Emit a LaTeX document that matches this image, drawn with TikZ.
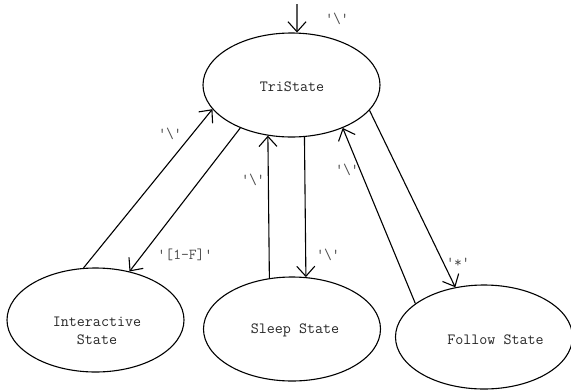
\documentclass[tikz,border=0pt]{standalone}
\usepackage{fontspec}
\usetikzlibrary{shapes.geometric,arrows.meta}
\newcommand{\quoted}[1]{\textquotesingle#1\textquotesingle}

\begin{document}
\begin{tikzpicture}[x=1pt,y=-1pt]
    \tikzstyle{state}=[draw, ellipse, line width=1.1pt, minimum width=177pt, minimum height=104pt, inner sep=0pt]
    \tikzstyle{statetext}=[font=\ttfamily\fontsize{15.6}{18}\selectfont, text=black!85, align=center]
    \tikzstyle{trans}=[line width=1.1pt, -{Straight Barb[length=10pt,width=18pt]}]
    \tikzstyle{cond}=[font=\ttfamily\fontsize{15.2}{16}\selectfont, text=black!70, inner sep=0pt]

    \useasboundingbox (0,0) rectangle (571,389);

    \node[state, label={[statetext, xshift=0.5pt, yshift=-2pt]center:TriState}](tri) at (291.5,85) {};
    \node[state, label={[statetext, xshift=1.5pt, yshift=-11pt]center:Interactive\\State}](inter) at (95.5,320) {};
    \node[state, label={[statetext, xshift=3pt, yshift=-1pt]center:Sleep State}](sleep) at (292,329) {};
    \node[state, label={[statetext, xshift=11.5pt, yshift=-3pt]center:Follow State}](follow) at (484,337) {};

    \coordinate(entry) at (297,4);
    \draw[trans] (entry) -- (tri.84);
    \draw[trans] (inter.103.5) -- (tri.197.6);
    \draw[trans] (tri.220.5) -- (inter.55.9);
    \draw[trans] (sleep.114.8) -- (tri.245.9);
    \draw[trans] (tri.284.7) -- (sleep.75.7);
    \draw[trans] (follow.154.4) -- (tri.320.1);
    \draw[trans] (tri.342.7) -- (follow.120);

    \node[cond](c_entry) at (337,19) {\quoted{\textbackslash}};
    \node[cond](c_inter_tri) at (170,134) {\quoted{\textbackslash}};
    \node[cond](c_tri_inter) at (185,255) {\quoted{[1-F]}};
    \node[cond](c_sleep_tri) at (253,180) {\quoted{\textbackslash}};
    \node[cond](c_tri_sleep) at (328,255) {\quoted{\textbackslash}};
    \node[cond](c_follow_tri) at (347,170) {\quoted{\textbackslash}};
    \node[cond](c_tri_follow) at (458,263) {\quoted{*}};

\end{tikzpicture}
\end{document}
